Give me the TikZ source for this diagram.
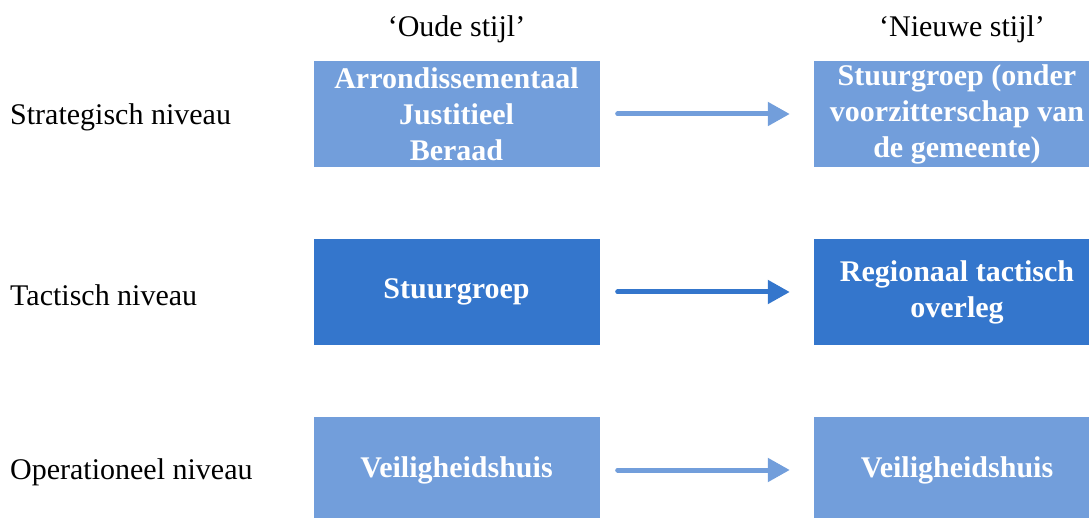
\documentclass[tikz,border=0pt]{standalone}
\usepackage{fontspec}
\setmainfont{Liberation Serif}
\usetikzlibrary{arrows.meta}

\definecolor{lichtblauw}{RGB}{114,158,219}
\definecolor{donkerblauw}{RGB}{52,118,204}

\begin{document}
\begin{tikzpicture}[x=1pt,y=-1pt,
  blok/.style={minimum width=286pt,minimum height=106pt,inner sep=0pt,align=center,text=white,font=\fontsize{30}{36}\selectfont\bfseries},
  niveau/.style={anchor=west,inner sep=0pt,font=\fontsize{30}{36}\selectfont},
  kop/.style={inner sep=0pt,font=\fontsize{30}{36}\selectfont},
  pijl/.style={line width=5pt,line cap=round,-{Triangle[length=22pt,width=23pt]},shorten <=18pt,shorten >=24pt}]


%definitions

\def\xo{456.5} %centre old column
\def\xn{957} %centre new column

\useasboundingbox (0,0) rectangle (1089,518);
\clip (0,0) rectangle (1089,518);

%
%headers
%

\node[kop] (oud) at (\xo,29) {`Oude stijl'};
\node[kop] (nieuw) at (962,29) {`Nieuwe stijl'};

%levels

\node[niveau] (strat) at (10,117) {Strategisch niveau};
\node[niveau] (tact) at (10,295) {Tactisch niveau};
\node[niveau] (oper) at (10,472) {Operationeel niveau};

%blocks

\node[blok,fill=lichtblauw] (ajb) at (\xo,114) {Arrondissementaal\\Justitieel\\Beraad};
\node[blok,fill=lichtblauw] (stuurg) at (\xn,114) {Stuurgroep (onder\\voorzitterschap van\\de gemeente)};

\node[blok,fill=donkerblauw] (stuur) at (\xo,292) {Stuurgroep};
\node[blok,fill=donkerblauw] (rto) at (\xn,292) {Regionaal tactisch\\overleg};

\node[blok,fill=lichtblauw] (vhoud) at (\xo,470) {Veiligheidshuis};
\node[blok,fill=lichtblauw] (vhnieuw) at (\xn,470) {Veiligheidshuis};

%arrows

\draw[pijl,lichtblauw] (ajb) -- (stuurg);
\draw[pijl,donkerblauw] (stuur) -- (rto);
\draw[pijl,lichtblauw] (vhoud) -- (vhnieuw);

\end{tikzpicture}
\end{document}
